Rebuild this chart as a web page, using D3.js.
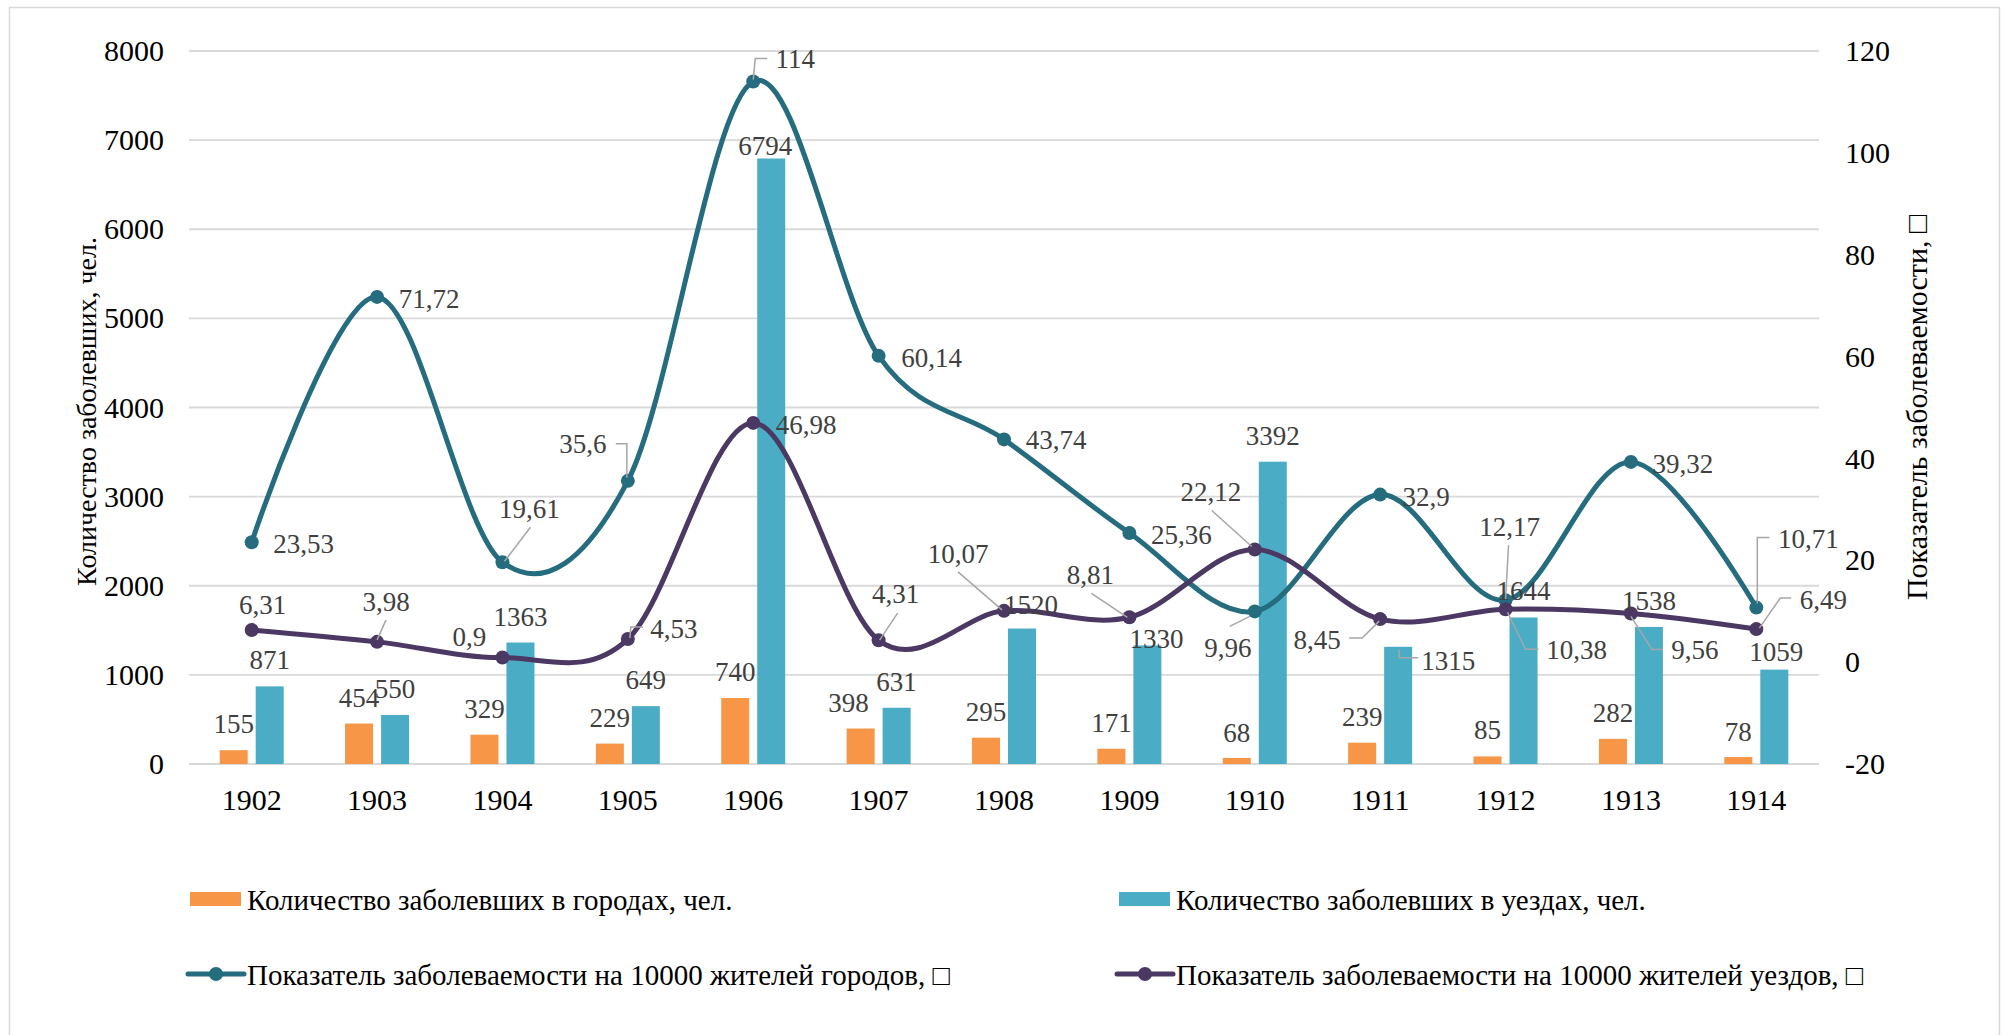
<!DOCTYPE html>
<html>
<head>
<meta charset="utf-8">
<script src="https://cdn.jsdelivr.net/npm/d3@7"></script>
<style>
  body { margin: 0; background: #fff; }
  #chart, #chart text { font-family: 'Liberation Serif', 'Times New Roman', Tinos, 'DejaVu Serif', serif; }
</style>
</head>
<body>
<svg id="chart" width="2008" height="1035"></svg>
<script>
// Data
const years = ['1902', '1903', '1904', '1905', '1906', '1907', '1908', '1909', '1910', '1911', '1912', '1913', '1914'];
const cityCases = [155, 454, 329, 229, 740, 398, 295, 171, 68, 239, 85, 282, 78];
const uezdCases = [871, 550, 1363, 649, 6794, 631, 1520, 1330, 3392, 1315, 1644, 1538, 1059];
const cityRate = [23.53, 71.72, 19.61, 35.6, 114, 60.14, 43.74, 25.36, 9.96, 32.9, 12.17, 39.32, 10.71];
const uezdRate = [6.31, 3.98, 0.9, 4.53, 46.98, 4.31, 10.07, 8.81, 22.12, 8.45, 10.38, 9.56, 6.49];
const leftTicks = [0, 1000, 2000, 3000, 4000, 5000, 6000, 7000, 8000];
const rightTicks = [-20, 0, 20, 40, 60, 80, 100, 120];

const seriesNames = [
  'Количество заболевших в городах, чел.',
  'Количество заболевших в уездах, чел.',
  'Показатель заболеваемости на 10000 жителей городов, \u25A1',
  'Показатель заболеваемости на 10000 жителей уездов, \u25A1'
];
const leftTitle = 'Количество заболевших, чел.';
const rightTitle = 'Показатель заболеваемости, \u25A1';

// Colors
const orange = '#f79646';
const aqua = '#4bacc6';
const teal = '#256c7f';
const purple = '#4b3863';
const labelGray = '#404040';
const leaderGray = '#a6a6a6';
const gridGray = '#d9d9d9';
const serif = "'Liberation Serif', 'Times New Roman', Tinos, 'DejaVu Serif', serif";

// Label placement (offsets from the mark, px) - hand tuned to match the picture
const cityCaseLabelPos = [[0,-26],[0,-26],[0,-26],[0,-26],[0,-26],[-12,-26],[0,-26],[0,-26],[0,-25],[0,-26],[0,-26],[0,-26],[0,-25]];
const uezdCaseLabelPos = [[0,-26],[0,-26],[0,-26],[0,-26],[-6,-12],[0,-26],[9,-24],[9,-6],[0,-26],[50,14],[0,-26],[0,-26],[2,-18]];
const uezdCaseLeaders = {9: [[1,3],[1,11],[20,11]]};
const cityRateLabelPos = [[52,2],[52,2],[27,-53],[-45,-37],[42,-23],[53,2],[52,1],[52,2],[-27,37],[46,2],[4,-73],[52,2],[52,-69]];
const cityRateLeaders = {
  2: [[28,-35],[2,-1]],
  3: [[-12,-37],[-1,-37],[-1,-3]],
  4: [[14,-23],[2,-23],[0,-2]],
  8: [[-25,15],[-5,5]],
  10: [[3,-55],[0,-1]],
  12: [[13,-70],[1,-70],[1,-4]]
};
const uezdRateLabelPos = [[11,-25],[9,-40],[-33,-21],[46,-10],[53,2],[17,-46],[-46,-57],[-39,-42],[-44,-57],[-63,21],[71,41],[64,37],[67,-29]];
const uezdRateLeaders = {
  1: [[9,-22],[0,-2]],
  3: [[15,-12],[3,-12],[2,-1]],
  5: [[19,-27],[1,0]],
  6: [[-46,-39],[-2,-1]],
  7: [[-38,-24],[-2,0]],
  8: [[-43,-39],[-3,-3]],
  9: [[-31,19],[-18,19],[-1,2]],
  10: [[33,40],[20,40],[2,3]],
  11: [[32,36],[21,36],[0,3]],
  12: [[35,-31],[24,-31],[3,-1]]
};

// Layout
const plot = { left: 189, right: 1819, top: 51, bottom: 764 };
const barW = 28;
const barShift = 18;

const svg = d3.select('#chart');

// outer border
svg.append('rect')
  .attr('x', 9.5).attr('y', 7.5)
  .attr('width', 1990).attr('height', 1040)
  .attr('fill', '#fff')
  .attr('stroke', gridGray)
  .attr('stroke-width', 1.5);

// Scales
const xScale = d3.scaleBand()
  .domain(years)
  .range([plot.left, plot.right]);

const yLeft = d3.scaleLinear()
  .domain([0, 8000])
  .range([plot.bottom, plot.top]);

const yRight = d3.scaleLinear()
  .domain([-20, 120])
  .range([plot.bottom, plot.top]);

const cx = d => xScale(d) + xScale.bandwidth() / 2;
const fmt = v => String(v).replace('.', ',');

// Gridlines
svg.append('g')
  .selectAll('line')
  .data(leftTicks)
  .enter()
  .append('line')
  .attr('x1', plot.left).attr('x2', plot.right)
  .attr('y1', d => yLeft(d)).attr('y2', d => yLeft(d))
  .attr('stroke', gridGray)
  .attr('stroke-width', 1.8);

// Axes (labels only)
const leftAxis = svg.append('g')
  .attr('transform', `translate(${plot.left - 25},0)`)
  .call(d3.axisLeft(yLeft).tickValues(leftTicks).tickSize(0).tickPadding(0).tickFormat(d3.format('d')));
const rightAxis = svg.append('g')
  .attr('transform', `translate(${plot.right + 26},0)`)
  .call(d3.axisRight(yRight).tickValues(rightTicks).tickSize(0).tickPadding(0).tickFormat(d => d < 0 ? '-' + Math.abs(d) : d));
const bottomAxis = svg.append('g')
  .attr('transform', `translate(0,${plot.bottom + 23})`)
  .call(d3.axisBottom(xScale).tickSize(0).tickPadding(0));

[leftAxis, rightAxis, bottomAxis].forEach(g => {
  g.attr('font-family', serif).attr('font-size', 30);
  g.select('.domain').remove();
  g.selectAll('text')
    .style('font-family', serif)
    .attr('font-size', 30)
    .attr('fill', '#000');
});
bottomAxis.selectAll('text').attr('dy', '0.75em');

// Axis titles
svg.append('text')
  .attr('transform', `translate(86,${(plot.top + plot.bottom) / 2 + 4}) rotate(-90)`)
  .attr('text-anchor', 'middle')
  .attr('dominant-baseline', 'central')
  .style('font-family', serif)
  .attr('font-size', 28)
  .attr('fill', '#000')
  .text(leftTitle);

svg.append('text')
  .attr('transform', `translate(1916,${(plot.top + plot.bottom) / 2}) rotate(-90)`)
  .attr('text-anchor', 'middle')
  .attr('dominant-baseline', 'central')
  .style('font-family', serif)
  .attr('font-size', 30)
  .attr('fill', '#000')
  .text(rightTitle);

// Bars
svg.append('g')
  .selectAll('rect')
  .data(cityCases)
  .enter()
  .append('rect')
  .attr('x', (d, i) => cx(years[i]) - barShift - barW / 2)
  .attr('y', d => yLeft(d))
  .attr('width', barW)
  .attr('height', d => yLeft(0) - yLeft(d))
  .attr('fill', orange);

svg.append('g')
  .selectAll('rect')
  .data(uezdCases)
  .enter()
  .append('rect')
  .attr('x', (d, i) => cx(years[i]) + barShift - barW / 2)
  .attr('y', d => yLeft(d))
  .attr('width', barW)
  .attr('height', d => yLeft(0) - yLeft(d))
  .attr('fill', aqua);

// Lines
const line = d3.line()
  .x((d, i) => cx(years[i]))
  .y(d => yRight(d))
  .curve(d3.curveCardinal.tension(0));

function drawLine(values, color) {
  svg.append('path')
    .datum(values)
    .attr('d', line)
    .attr('fill', 'none')
    .attr('stroke', color)
    .attr('stroke-width', 5)
    .attr('stroke-linecap', 'round');
  svg.append('g')
    .selectAll('circle')
    .data(values)
    .enter()
    .append('circle')
    .attr('cx', (d, i) => cx(years[i]))
    .attr('cy', d => yRight(d))
    .attr('r', 7)
    .attr('fill', color);
}

drawLine(cityRate, teal);
drawLine(uezdRate, purple);

// Data labels + leader lines
function drawLabels(values, anchorX, anchorY, offsets, leaders) {
  const g = svg.append('g');
  Object.keys(leaders).forEach(k => {
    const i = +k;
    const ax = anchorX(i), ay = anchorY(values[i]);
    g.append('path')
      .attr('d', d3.line()(leaders[k].map(p => [ax + p[0], ay + p[1]])))
      .attr('fill', 'none')
      .attr('stroke', leaderGray)
      .attr('stroke-width', 1.5);
  });
  g.selectAll('text')
    .data(values)
    .enter()
    .append('text')
    .attr('x', (d, i) => anchorX(i) + offsets[i][0])
    .attr('y', (d, i) => anchorY(d) + offsets[i][1])
    .attr('text-anchor', 'middle')
    .attr('dominant-baseline', 'central')
    .style('font-family', serif)
    .attr('font-size', 27)
    .attr('fill', labelGray)
    .text(d => fmt(d));
}

drawLabels(cityCases, i => cx(years[i]) - barShift, yLeft, cityCaseLabelPos, {});
drawLabels(uezdCases, i => cx(years[i]) + barShift, yLeft, uezdCaseLabelPos, uezdCaseLeaders);
drawLabels(cityRate, i => cx(years[i]), yRight, cityRateLabelPos, cityRateLeaders);
drawLabels(uezdRate, i => cx(years[i]), yRight, uezdRateLabelPos, uezdRateLeaders);

// Legend
const legendItems = [
  { name: seriesNames[0], type: 'bar', color: orange, x: 190, y: 899 },
  { name: seriesNames[1], type: 'bar', color: aqua, x: 1119, y: 899 },
  { name: seriesNames[2], type: 'line', color: teal, x: 188, y: 974 },
  { name: seriesNames[3], type: 'line', color: purple, x: 1117, y: 974 }
];

const legend = svg.append('g')
  .selectAll('g')
  .data(legendItems)
  .enter()
  .append('g')
  .attr('transform', d => `translate(${d.x},${d.y})`);

legend.filter(d => d.type === 'bar')
  .append('rect')
  .attr('x', 0).attr('y', -7)
  .attr('width', 51).attr('height', 14)
  .attr('fill', d => d.color);

legend.filter(d => d.type === 'line')
  .append('line')
  .attr('x1', 0).attr('x2', 56)
  .attr('y1', 0).attr('y2', 0)
  .attr('stroke', d => d.color)
  .attr('stroke-width', 5)
  .attr('stroke-linecap', 'round');

legend.filter(d => d.type === 'line')
  .append('circle')
  .attr('cx', 28).attr('cy', 0)
  .attr('r', 7)
  .attr('fill', d => d.color);

legend.append('text')
  .attr('x', d => d.type === 'bar' ? 57 : 59)
  .attr('y', 11)
  .style('font-family', serif)
  .attr('font-size', 29)
  .attr('fill', '#000')
  .text(d => d.name);
</script>
</body>
</html>
